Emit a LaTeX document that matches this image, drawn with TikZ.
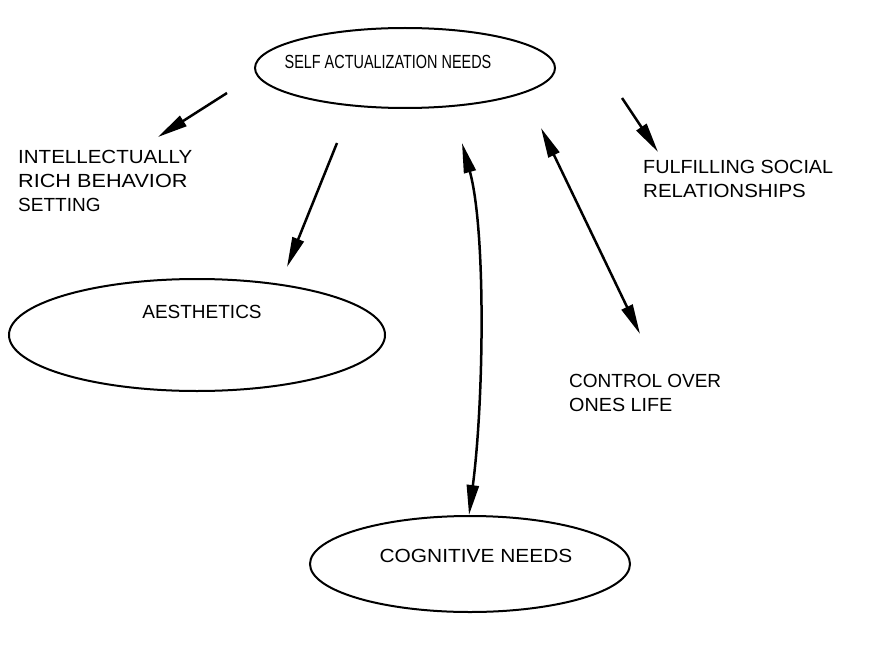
\documentclass[tikz,border=0pt]{standalone}
\usepackage{fontspec}
\setmainfont{Liberation Sans}
\usetikzlibrary{arrows.meta,shapes.geometric}
% horizontal stretch of a line of text
\newcommand{\hstretch}[2]{\scalebox{#1}[1]{#2}}
\begin{document}
\begin{tikzpicture}[x=1pt,y=-1pt,
  >={Triangle[length=30pt,width=12pt]},
  bubble/.style={draw, ellipse, line width=2pt, inner sep=0pt},
  bubbletext/.style={inner sep=0pt, font=\fontsize{19}{24}\selectfont},
  note/.style={anchor=north west, inner sep=0pt, align=left,
    font=\fontsize{19}{24}\selectfont},
  link/.style={line width=2.5pt, ->},
  twoway/.style={line width=2.5pt, <->}]
  \useasboundingbox[fill=white] (0,0) rectangle (877,650);

  % the three needs
  \node[bubble, minimum width=300pt, minimum height=80pt] (self) at (405,68) {};
  \node[bubbletext] (selfText) at (388,62) {\hstretch{0.76}{SELF ACTUALIZATION NEEDS}};

  \node[bubble, minimum width=376pt, minimum height=112pt] (aes) at (197,335) {};
  \node[bubbletext] (aesText) at (202,312) {\hstretch{1.0}{AESTHETICS}};

  \node[bubble, minimum width=320pt, minimum height=96pt] (cog) at (470,564) {};
  \node[bubbletext] (cogText) at (476,556) {\hstretch{1.1}{COGNITIVE NEEDS}};

  % side notes
  \node[note] (intel) at (18,150) {\hstretch{1.08}{INTELLECTUALLY}\\
    \hstretch{1.14}{RICH BEHAVIOR}\\ \hstretch{1.0}{SETTING}};
  \node[note] (social) at (643,160) {\hstretch{1.04}{FULFILLING SOCIAL}\\
    \hstretch{1.08}{RELATIONSHIPS}};
  \node[note] (control) at (569,374) {\hstretch{1.0}{CONTROL OVER}\\
    \hstretch{1.04}{ONES LIFE}};

  % arrow end points
  \coordinate (a1s) at (227,93);   \coordinate (a1e) at (158,137);
  \coordinate (a2s) at (337,143);  \coordinate (a2e) at (287,267);
  \coordinate (a3s) at (462,143);  \coordinate (a3e) at (469,515);
  \coordinate (a4s) at (541,128);  \coordinate (a4e) at (640,334);
  \coordinate (a5s) at (622,98);   \coordinate (a5e) at (658,152);

  \draw[link] (a1s) -- (a1e);
  \draw[link] (a2s) -- (a2e);
  \draw[twoway] (a3s) .. controls (486,230) and (484,400) .. (a3e);
  \draw[twoway] (a4s) -- (a4e);
  \draw[link] (a5s) -- (a5e);
\end{tikzpicture}
\end{document}
